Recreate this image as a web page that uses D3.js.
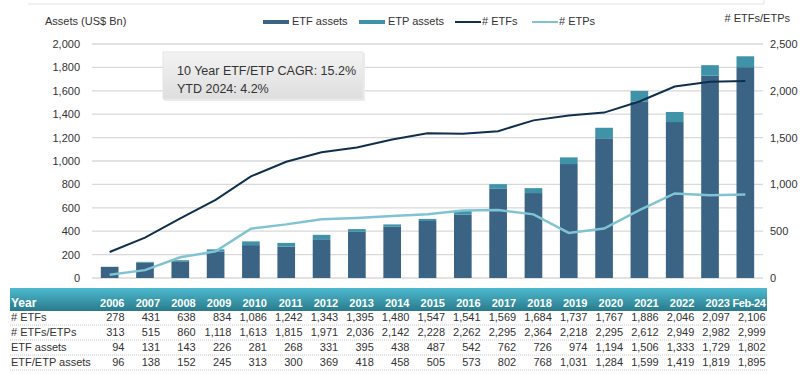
<!DOCTYPE html>
<html>
<head>
<meta charset="utf-8">
<script src="https://cdn.jsdelivr.net/npm/d3@7"></script>
<style>
  body { margin: 0; background: #fff; }
  svg text { font-family: 'Liberation Sans', Arial, sans-serif; fill: #333; }
</style>
</head>
<body>
<svg id="chart" width="800" height="374"></svg>
<script>
const years = ['2006', '2007', '2008', '2009', '2010', '2011', '2012', '2013', '2014', '2015',
  '2016', '2017', '2018', '2019', '2020', '2021', '2022', '2023', 'Feb-24']
const numEtfs = [278, 431, 638, 834, 1086, 1242, 1343, 1395, 1480, 1547, 1541, 1569, 1684, 1737, 1767, 1886, 2046, 2097, 2106]
const numEtfsEtps = [313, 515, 860, 1118, 1613, 1815, 1971, 2036, 2142, 2228, 2262, 2295, 2364, 2218, 2295, 2612, 2949, 2982, 2999]
const etfAssets = [94, 131, 143, 226, 281, 268, 331, 395, 438, 487, 542, 762, 726, 974, 1194, 1506, 1333, 1729, 1802]
const etfEtpAssets = [96, 138, 152, 245, 313, 300, 369, 418, 458, 505, 573, 802, 768, 1031, 1284, 1599, 1419, 1819, 1895]
const leftTicks = [0, 200, 400, 600, 800, 1000, 1200, 1400, 1600, 1800, 2000]
const rightTicks = [0, 500, 1000, 1500, 2000, 2500]
const noteLines = ['10 Year ETF/ETP CAGR: 15.2%', 'YTD 2024: 4.2%']

const colors = {
  etf: '#3a6384',
  etp: '#3f93a9',
  lineEtf: '#0f2f4e',
  lineEtp: '#80c4d4',
  grid: '#d9d9d9',
}

const svg = d3.select('#chart')
const fmt = d3.format(',')

/* scales */
const x = d3.scaleBand().domain(years).range([92, 763]).paddingInner(0.5).paddingOuter(0.25)
const yLeft = d3.scaleLinear().domain([0, 2000]).range([278, 44])
const yRight = d3.scaleLinear().domain([0, 2500]).range([278, 44])
const cx = (d) => x(d) + x.bandwidth() / 2

/* top frame edge */
svg.append('path').attr('d', 'M28,4H764V0').attr('fill', 'none').attr('stroke', '#e3e3e3')

/* gridlines */
svg.append('g')
  .selectAll('line')
  .data(leftTicks)
  .join('line')
  .attr('x1', 92).attr('x2', 763)
  .attr('y1', (d) => yLeft(d)).attr('y2', (d) => yLeft(d))
  .attr('stroke', colors.grid).attr('stroke-width', 1.3)

/* axes */
const leftAxis = svg.append('g')
  .attr('transform', 'translate(80,0)')
  .call(d3.axisLeft(yLeft).tickValues(leftTicks).tickFormat(fmt).tickSize(0).tickPadding(0))
const rightAxis = svg.append('g')
  .attr('transform', 'translate(770,0)')
  .call(d3.axisRight(yRight).tickValues(rightTicks).tickFormat(fmt).tickSize(0).tickPadding(0))
;[leftAxis, rightAxis].forEach((a) => {
  a.select('.domain').remove()
  a.selectAll('text').attr('font-size', 11).attr('fill', '#444')
    .style('font-family', "'Liberation Sans', Arial, sans-serif")
})

/* axis titles */
svg.append('text').attr('x', 45).attr('y', 25).attr('font-size', 11).text('Assets (US$ Bn)')
svg.append('text').attr('x', 790).attr('y', 22).attr('font-size', 11).attr('text-anchor', 'end').text('# ETFs/ETPs')

/* bars */
svg.append('g')
  .selectAll('rect')
  .data(years)
  .join('rect')
  .attr('x', (d) => x(d))
  .attr('width', x.bandwidth())
  .attr('y', (d, i) => yLeft(etfAssets[i]))
  .attr('height', (d, i) => yLeft(0) - yLeft(etfAssets[i]))
  .attr('fill', colors.etf)

svg.append('g')
  .selectAll('rect')
  .data(years)
  .join('rect')
  .attr('x', (d) => x(d))
  .attr('width', x.bandwidth())
  .attr('y', (d, i) => yLeft(etfEtpAssets[i]))
  .attr('height', (d, i) => yLeft(etfAssets[i]) - yLeft(etfEtpAssets[i]))
  .attr('fill', colors.etp)

/* lines */
const numEtps = numEtfsEtps.map((v, i) => v - numEtfs[i])
const line = d3.line().x((d, i) => cx(years[i])).y((d) => yRight(d))

svg.append('path').datum(numEtfs)
  .attr('fill', 'none').attr('stroke', colors.lineEtf).attr('stroke-width', 2)
  .attr('d', line)
svg.append('path').datum(numEtps)
  .attr('fill', 'none').attr('stroke', colors.lineEtp).attr('stroke-width', 2.5)
  .attr('d', line)

/* legend */
const legend = [
  { label: 'ETF assets', color: colors.etf, x: 263, h: 4 },
  { label: 'ETP assets', color: colors.etp, x: 359, h: 4 },
  { label: '# ETFs', color: colors.lineEtf, x: 455, h: 2 },
  { label: '# ETPs', color: colors.lineEtp, x: 532, h: 2 },
]
legend.forEach((l) => {
  svg.append('rect').attr('x', l.x).attr('y', 22 - l.h / 2).attr('width', 26).attr('height', l.h).attr('fill', l.color)
  svg.append('text').attr('x', l.x + (l.h > 2 ? 29 : 27)).attr('y', 25).attr('font-size', 11).text(l.label)
})

/* note box */
const defs = svg.append('defs')
const ng = defs.append('linearGradient').attr('id', 'noteGrad').attr('x1', 0).attr('x2', 0).attr('y1', 0).attr('y2', 1)
ng.append('stop').attr('offset', '0%').attr('stop-color', '#f3f3f3')
ng.append('stop').attr('offset', '100%').attr('stop-color', '#dedede')
svg.append('rect').attr('x', 164).attr('y', 53).attr('width', 201).attr('height', 48).attr('fill', '#ececec')
svg.append('rect').attr('x', 163).attr('y', 52).attr('width', 200).attr('height', 47)
  .attr('fill', 'url(#noteGrad)').attr('stroke', '#e6e6e6')
noteLines.forEach((t, i) => {
  svg.append('text').attr('x', 177).attr('y', 75 + i * 17.5).attr('font-size', 12.5).attr('fill', '#333').text(t)
})

/* table */
const hg = defs.append('linearGradient').attr('id', 'headGrad').attr('x1', 0).attr('x2', 0).attr('y1', 0).attr('y2', 1)
hg.append('stop').attr('offset', '0%').attr('stop-color', '#4dbad0')
hg.append('stop').attr('offset', '100%').attr('stop-color', '#2a7a8b')
svg.append('rect').attr('x', 10).attr('y', 288).attr('width', 757).attr('height', 23).attr('fill', 'url(#headGrad)')

const tx = d3.scalePoint().domain(years).range([124.5, 765.5])
const rows = [
  { label: '# ETFs', values: numEtfs },
  { label: '# ETFs/ETPs', values: numEtfsEtps },
  { label: 'ETF assets', values: etfAssets },
  { label: 'ETF/ETP assets', values: etfEtpAssets },
]

svg.append('text').attr('x', 11).attr('y', 307).attr('font-size', 12).attr('font-weight', 'bold')
  .style('fill', '#fff').text('Year')
svg.append('g')
  .selectAll('text')
  .data(years)
  .join('text')
  .attr('x', (d) => tx(d)).attr('y', 307)
  .attr('text-anchor', 'end').attr('font-size', 11).attr('font-weight', 'bold')
  .attr('letter-spacing', (d) => (d.length > 4 ? -0.4 : 0))
  .style('fill', '#fff')
  .text((d) => d)

rows.forEach((r, ri) => {
  const y = 321 + ri * 15
  svg.append('line').attr('x1', 10).attr('x2', 767).attr('y1', y + 4).attr('y2', y + 4)
    .attr('stroke', '#c8c8c8').attr('stroke-dasharray', '1,1')
  svg.append('text').attr('x', 11).attr('y', y).attr('font-size', 11).text(r.label)
  svg.append('g')
    .selectAll('text')
    .data(r.values)
    .join('text')
    .attr('x', (d, i) => tx(years[i])).attr('y', y)
    .attr('text-anchor', 'end').attr('font-size', 11)
    .text((d) => fmt(d))
})
</script>
</body>
</html>
